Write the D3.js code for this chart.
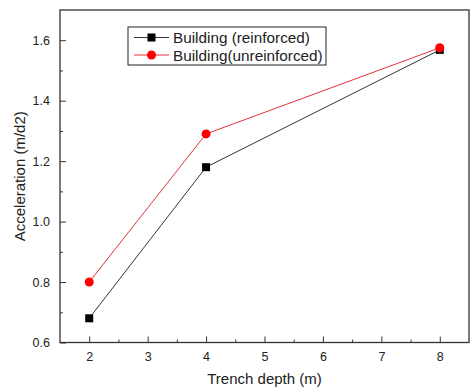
<!DOCTYPE html>
<html>
<head>
<meta charset="utf-8">
<script src="https://cdn.jsdelivr.net/npm/d3@7"></script>
<style>
  body { margin: 0; background: #fff; }
  text { font-family: "Liberation Sans", Arial, sans-serif; fill: #222; }
</style>
</head>
<body>
<div class="forSvg"></div>
<script>
// chart data
const depths = [2, 4, 8];
const reinforced = [0.68, 1.18, 1.568];
const unreinforced = [0.80, 1.29, 1.575];
const xTicks = [2, 3, 4, 5, 6, 7, 8];
const yTicks = [0.6, 0.8, 1.0, 1.2, 1.4, 1.6];
const seriesNames = ["Building (reinforced)", "Building(unreinforced)"];

const svg_w = 471, svg_h = 389;
const padL = 60, padR = 469, padT = 10, padB = 342.5;

const xScale = d3.scaleLinear().domain([1.5, 8.5]).range([padL, padR]);
const yScale = d3.scaleLinear().domain([0.6, 1.7]).range([padB, padT]);

const svg = d3.select(".forSvg").append("svg")
  .attr("width", svg_w).attr("height", svg_h);

// frame
svg.append("rect")
  .attr("x", padL).attr("y", padT)
  .attr("width", padR - padL).attr("height", padB - padT)
  .attr("fill", "none").attr("stroke", "#333").attr("stroke-width", 1.3);

// x axis (ticks point inward)
const xAxis = d3.axisBottom(xScale).tickValues(xTicks).tickSize(-6).tickPadding(10)
  .tickFormat(d3.format("d"));
const gx = svg.append("g").attr("transform", `translate(0,${padB})`).call(xAxis);
gx.select(".domain").remove();
gx.selectAll("line").attr("stroke", "#333");
gx.selectAll("text").attr("font-size", 12.5).attr("fill", "#222");
const xMinor = d3.axisBottom(xScale).tickValues(d3.range(2.5, 8.5, 1)).tickSize(-3).tickFormat("");
const gxm = svg.append("g").attr("transform", `translate(0,${padB})`).call(xMinor);
gxm.select(".domain").remove();
gxm.selectAll("line").attr("stroke", "#333");

// y axis
const yAxis = d3.axisLeft(yScale).tickValues(yTicks).tickSize(-6).tickPadding(10)
  .tickFormat(d3.format(".1f"));
const gy = svg.append("g").attr("transform", `translate(${padL},0)`).call(yAxis);
gy.select(".domain").remove();
gy.selectAll("line").attr("stroke", "#333");
gy.selectAll("text").attr("font-size", 12.5).attr("fill", "#222");
const yMinor = d3.axisLeft(yScale).tickValues([0.7, 0.9, 1.1, 1.3, 1.5]).tickSize(-3).tickFormat("");
const gym = svg.append("g").attr("transform", `translate(${padL},0)`).call(yMinor);
gym.select(".domain").remove();
gym.selectAll("line").attr("stroke", "#333");

// axis titles
svg.append("text")
  .attr("x", (padL + padR) / 2).attr("y", 384)
  .attr("text-anchor", "middle").attr("font-size", 15)
  .text("Trench depth (m)");
svg.append("text")
  .attr("transform", `translate(25,${(padT + padB) / 2}) rotate(-90)`)
  .attr("text-anchor", "middle").attr("font-size", 15)
  .text("Acceleration (m/d2)");

const line = d3.line().x(d => xScale(d[0])).y(d => yScale(d[1]));

// reinforced series
const rData = depths.map((d, i) => [d, reinforced[i]]);
svg.append("path").datum(rData).attr("d", line)
  .attr("fill", "none").attr("stroke", "#333").attr("stroke-width", 1);
svg.selectAll(".sq").data(rData).enter().append("rect")
  .attr("x", d => xScale(d[0]) - 4).attr("y", d => yScale(d[1]) - 4)
  .attr("width", 8).attr("height", 8).attr("fill", "#000");

// unreinforced series
const uData = depths.map((d, i) => [d, unreinforced[i]]);
svg.append("path").datum(uData).attr("d", line)
  .attr("fill", "none").attr("stroke", "#e2323c").attr("stroke-width", 1);
svg.selectAll(".ci").data(uData).enter().append("circle")
  .attr("cx", d => xScale(d[0])).attr("cy", d => yScale(d[1]))
  .attr("r", 4.5).attr("fill", "#f00");

// legend
const lg = svg.append("g");
lg.append("rect").attr("x", 128).attr("y", 27).attr("width", 198).attr("height", 38)
  .attr("fill", "#fff").attr("stroke", "#222").attr("stroke-width", 1);
const legendRows = [
  { name: seriesNames[0], color: "#333", marker: "square", y: 37.5 },
  { name: seriesNames[1], color: "#e2323c", marker: "circle", y: 55 }
];
legendRows.forEach(r => {
  lg.append("line").attr("x1", 134).attr("x2", 169).attr("y1", r.y).attr("y2", r.y)
    .attr("stroke", r.color).attr("stroke-width", 1);
  if (r.marker === "square") {
    lg.append("rect").attr("x", 147.5).attr("y", r.y - 4).attr("width", 8).attr("height", 8).attr("fill", "#000");
  } else {
    lg.append("circle").attr("cx", 151.5).attr("cy", r.y).attr("r", 4.5).attr("fill", "#f00");
  }
  lg.append("text").attr("x", 173).attr("y", r.y + 5.5).attr("font-size", 15.3).text(r.name);
});
</script>
</body>
</html>
